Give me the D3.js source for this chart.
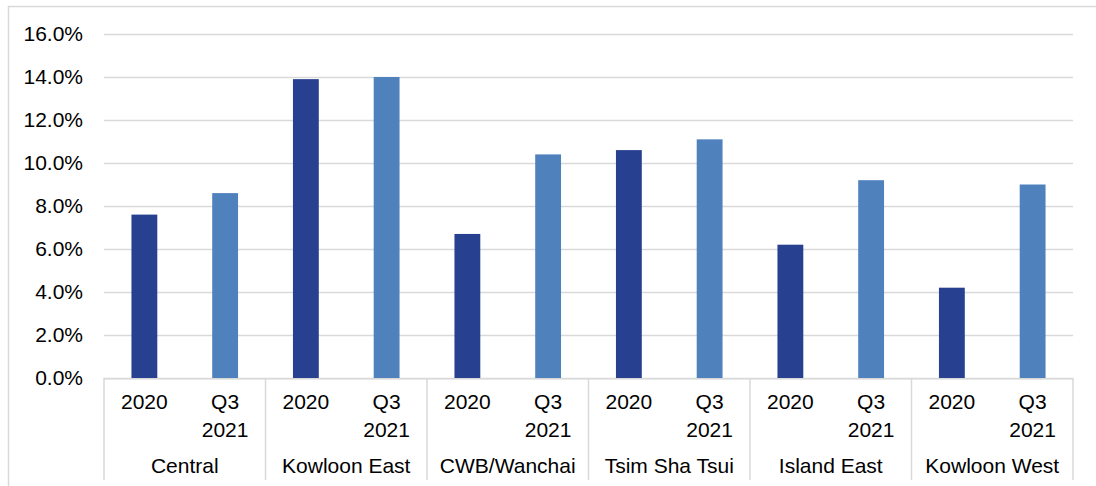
<!DOCTYPE html>
<html>
<head>
<meta charset="utf-8">
<script src="https://cdn.jsdelivr.net/npm/d3@7"></script>
<style>
  html, body { margin: 0; padding: 0; background: #fff; }
  svg { display: block; }
  text { font-family: "Liberation Sans", Arial, sans-serif; fill: #000; }
</style>
</head>
<body>
<svg id="chart" width="1096" height="486"></svg>
<script>
const districts = ["Central", "Kowloon East", "CWB/Wanchai", "Tsim Sha Tsui", "Island East", "Kowloon West"];
const periods = ["2020", "Q3 2021"];
const periodLines = [["2020"], ["Q3", "2021"]];
const values2020 = [7.6, 13.9, 6.7, 10.6, 6.2, 4.2];
const valuesQ32021 = [8.6, 14.0, 10.4, 11.1, 9.2, 9.0];
const yTicks = [0, 2, 4, 6, 8, 10, 12, 14, 16];
const colors = ["#27408F", "#4F81BD"];

const series = [values2020, valuesQ32021];
const rows = [];
districts.forEach((d, i) => periods.forEach((p, j) => rows.push({district: d, period: p, pi: j, value: series[j][i]})));

const W = 1096, H = 486;
const plot = {left: 104, right: 1073, top: 34, bottom: 378};
const svg = d3.select("#chart");
const gridColor = "#d9d9d9";
const fontSize = 21;

// frame
svg.append("line").attr("x1", 8).attr("x2", W).attr("y1", 6.5).attr("y2", 6.5).attr("stroke", gridColor).attr("stroke-width", 1.5);
svg.append("line").attr("x1", 8.5).attr("x2", 8.5).attr("y1", 6).attr("y2", H).attr("stroke", gridColor).attr("stroke-width", 1.5);

const x0 = d3.scaleBand().domain(districts).range([plot.left, plot.right]).paddingInner(0).paddingOuter(0);
const x1 = d3.scalePoint().domain(periods).range([0, x0.bandwidth()]).padding(0.5);
const barW = x1.step() * 0.32;
const y = d3.scaleLinear().domain([0, 16]).range([plot.bottom, plot.top]);

// gridlines
const yAxis = d3.axisLeft(y).tickValues(yTicks).tickSize(-(plot.right - plot.left)).tickPadding(21)
  .tickFormat(d => d3.format(".1f")(d) + "%");
const gy = svg.append("g").attr("transform", `translate(${plot.left},0)`).call(yAxis);
gy.select(".domain").remove();
gy.selectAll(".tick line").attr("stroke", gridColor).attr("stroke-width", 1.5);
gy.selectAll(".tick text").attr("font-size", fontSize).attr("fill", "#000")
  .style("font-family", '"Liberation Sans", Arial, sans-serif');

// bars
svg.append("g").selectAll("rect").data(rows).join("rect")
  .attr("x", d => x0(d.district) + x1(d.period) - barW / 2)
  .attr("width", barW)
  .attr("y", d => y(d.value))
  .attr("height", d => y(0) - y(d.value))
  .attr("fill", d => colors[d.pi]);

// category axis
svg.append("line").attr("x1", plot.left).attr("x2", plot.right).attr("y1", plot.bottom + 0.75).attr("y2", plot.bottom + 0.75)
  .attr("stroke", gridColor).attr("stroke-width", 1.5);
const bounds = districts.map(d => x0(d)).concat([plot.right]);
svg.append("g").selectAll("line").data(bounds).join("line")
  .attr("x1", d => d).attr("x2", d => d)
  .attr("y1", plot.bottom).attr("y2", 480)
  .attr("stroke", gridColor).attr("stroke-width", 1.5);

// sub labels
const subG = svg.append("g");
rows.forEach(r => {
  const lines = periodLines[r.pi];
  const t = subG.append("text").attr("text-anchor", "middle").attr("font-size", fontSize)
    .attr("x", x0(r.district) + x1(r.period)).attr("y", 409);
  lines.forEach((ln, k) => t.append("tspan").attr("x", x0(r.district) + x1(r.period)).attr("y", 409 + k * 28).text(ln));
});

// group labels
svg.append("g").selectAll("text").data(districts).join("text")
  .attr("text-anchor", "middle").attr("font-size", fontSize)
  .attr("x", d => x0(d) + x0.bandwidth() / 2).attr("y", 473)
  .text(d => d);
</script>
</body>
</html>
